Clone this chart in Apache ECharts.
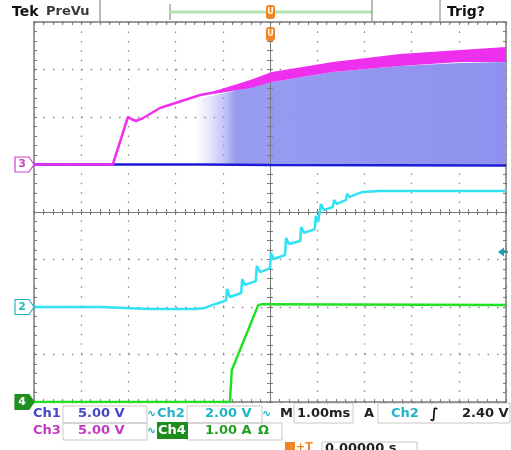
<!DOCTYPE html>
<html><head><meta charset="utf-8">
<script src="https://cdn.jsdelivr.net/npm/echarts@6/dist/echarts.min.js"></script>
<style>html,body{margin:0;padding:0;background:#fff}#c{width:511px;height:450px}</style>
</head><body><div id="c"></div>
<script>
// ---- scope settings (per-division scales and ground offsets in divisions) ----
const msPerDiv = 1.0;
const ch1VoltsPerDiv = 5, ch1Offset = 1;
const ch2VoltsPerDiv = 2, ch2Offset = -2;
const ch3VoltsPerDiv = 5, ch3Offset = 1;
const ch4AmpsPerDiv = 1, ch4Offset = -4;

// ---- Ch1 (blue): ground trace and switching-noise envelope ----
const ch1Time  = [-5, -1.5, 0, 5];
const ch1Volts = [0, 0, -0.05, -0.1];
const ch1NoiseTime = [-1.59, -1.17, -0.42, 0.04, 1.33, 2.75, 4.03, 5.0];
const ch1NoiseTop  = [6.9, 7.3, 8.16, 8.68, 9.74, 10.37, 10.68, 10.79];

// ---- Ch3 (magenta) ----
const ch3Time  = [-5, -3.33, -3.01, -2.94, -2.84, -2.69, -2.33, -1.48, -0.91, 0.04, 1.33, 2.75, 4.98];
const ch3Volts = [0, 0, 5.0, 4.79, 4.58, 4.89, 5.95, 7.32, 7.84, 9.21, 10.26, 11.0, 11.5];
const ch3BandTime  = [-1.17, -0.42, 0.04, 1.33, 2.75, 4.03, 5.0];
const ch3BandUpper = [7.75, 8.89, 9.74, 10.79, 11.63, 12.05, 12.37];
const ch3BandLower = [7.45, 8.05, 8.68, 9.74, 10.37, 10.79, 10.79];

// ---- Ch2 (cyan) ----
const ch2Time  = [-5.00,-3.60,-3.07,-2.54,-1.59,-1.38,-1.23,-1.02,-0.93,-0.91,-0.85,-0.61,-0.59,-0.53,-0.30,-0.28,-0.21,0.00,0.02,0.08,0.32,0.34,0.40,0.64,0.66,0.72,0.95,0.97,1.02,1.06,1.08,1.14,1.33,1.36,1.42,1.61,1.63,1.69,1.84,1.95,2.33,5.00];
const ch2Volts = [0,0,-0.04,-0.08,-0.08,-0.04,0.08,0.21,0.29,0.76,0.42,0.59,1.18,0.93,1.09,1.73,1.47,1.64,2.27,2.02,2.19,2.91,2.65,2.78,3.37,3.12,3.28,3.83,3.58,3.66,4.34,4.08,4.21,4.51,4.34,4.51,4.76,4.63,4.76,4.84,4.88,4.88];

// ---- Ch4 (green, current) ----
const ch4Time = [-5, -0.85, -0.81, -0.81, -0.25, -0.17, 5];
const ch4Amps = [0, 0, 0.04, 0.67, 2.04, 2.06, 2.04];

// ---- readout texts ----
const readRow1 = ['Ch1', '5.00 V', 'Ch2', '2.00 V', 'M', '1.00ms', 'A', 'Ch2', '2.40 V'];
const readRow2 = ['Ch3', '5.00 V', 'Ch4', '1.00 A', 'Ω'];
const readRow3 = ['0.00000 s'];

// ---- build ----
const toDiv = (times, vals, scale, off) => times.map((t, i) => [t / msPerDiv, vals[i] / scale + off]);

const FONT = 'DejaVu Sans';
const gridCol = '#7a7a7a';

function xAx(pos, onZero, inside, extra) {
  return Object.assign({
    type: 'value', min: -5, max: 5, interval: 1, position: pos,
    axisLine: { show: true, onZero: onZero, lineStyle: { color: gridCol, width: onZero ? 1 : 1.5 } },
    axisTick: { show: true, inside: inside, length: 3, lineStyle: { color: gridCol } },
    minorTick: { show: true, splitNumber: 5, length: 3, lineStyle: { color: gridCol } },
    axisLabel: { show: false }, splitLine: { show: false }
  }, extra || {});
}
function yAx(pos, onZero, inside, extra) {
  return Object.assign({
    type: 'value', min: -4, max: 4, interval: 1, position: pos,
    axisLine: { show: true, onZero: onZero, lineStyle: { color: gridCol, width: onZero ? 1 : 1.5 } },
    axisTick: { show: true, inside: inside, length: 3, lineStyle: { color: gridCol } },
    minorTick: { show: true, splitNumber: 5, length: 3, lineStyle: { color: gridCol } },
    axisLabel: { show: false }, splitLine: { show: false }
  }, extra || {});
}
const dotted = { show: true, lineStyle: { color: '#8a8a8a', width: 1.3, type: [1.5, 7.95] } };

function bandSeries(times, lows, highs, fill, z) {
  const data = times.map((t, i) => [t, lows[i], highs[i]]);
  return {
    type: 'custom', xAxisIndex: 0, yAxisIndex: 0, z: z, silent: true, clip: true,
    data: data,
    renderItem: function (params, api) {
      if (params.dataIndex !== 0) return null;
      const top = data.map(d => api.coord([d[0], d[2]]));
      const bot = data.map(d => api.coord([d[0], d[1]])).reverse();
      return { type: 'polygon', shape: { points: top.concat(bot) }, style: { fill: fill } };
    }
  };
}

const noiseTimes = ch1NoiseTime.map(t => t / msPerDiv);
const noiseLow = ch1NoiseTime.map(() => 0 / ch1VoltsPerDiv + ch1Offset);
const noiseHigh = ch1NoiseTop.map(v => v / ch1VoltsPerDiv + ch1Offset);
const bandTimes = ch3BandTime.map(t => t / msPerDiv);
const bandLow = ch3BandLower.map(v => v / ch3VoltsPerDiv + ch3Offset);
const bandHigh = ch3BandUpper.map(v => v / ch3VoltsPerDiv + ch3Offset);

const noiseFill = new echarts.graphic.LinearGradient(0, 0, 1, 0, [
  { offset: 0, color: 'rgba(146,150,240,0.0)' },
  { offset: 0.05, color: 'rgba(146,150,240,0.25)' },
  { offset: 0.10, color: 'rgba(146,150,240,0.6)' },
  { offset: 0.13, color: 'rgba(146,150,240,0.95)' },
  { offset: 1, color: 'rgba(142,146,238,1)' }
]);

function lineS(data, color, width, z) {
  return { type: 'line', xAxisIndex: 0, yAxisIndex: 0, data: data, showSymbol: false, z: z,
    lineStyle: { color: color, width: width }, animation: false, silent: true };
}

const txt = (x, y, s, fill, size, extra) => Object.assign({
  type: 'text', x: x, y: y, silent: true,
  style: { text: s, fill: fill, font: 'bold ' + (size || 13) + 'px "' + FONT + '"', textVerticalAlign: 'middle' }
}, extra || {});
const ln = (x1, y1, x2, y2, c, w) => ({ type: 'line', silent: true, shape: { x1, y1, x2, y2 }, style: { stroke: c, lineWidth: w || 1 } });
const box = (x, y, w, h, c) => ({ type: 'rect', silent: true, shape: { x, y, width: w, height: h }, style: { fill: 'none', stroke: c || '#c8c8c8', lineWidth: 1 } });
const marker = (cy, label, col, filled) => ([
  { type: 'polygon', silent: true, shape: { points: [[15, cy - 7.5], [29, cy - 7.5], [34, cy], [29, cy + 7.5], [15, cy + 7.5]] },
    style: { fill: filled ? col : '#fff', stroke: col, lineWidth: 1.2 }, z: 100 },
  { type: 'text', silent: true, x: 22, y: cy, z: 101, style: { text: label, fill: filled ? '#fff' : col, font: 'bold 11px "' + FONT + '"', textAlign: 'center', textVerticalAlign: 'middle' } }
]);

const cBlue = '#4646c8', cCyan = '#20b4c6', cMag = '#c23ac2', cGreen = '#22a022';

const graphics = [
  txt(12, 12, 'Tek', '#111', 14),
  txt(46, 12, 'PreVu', '#3a3a3a', 13),
  ln(100, 0, 100, 21, '#777', 1),
  ln(170, 4, 170, 20, '#777', 1),
  ln(170, 12, 372, 12, '#b4e4b4', 3),
  ln(372, 0, 372, 21, '#777', 1),
  ln(440, 0, 440, 21, '#777', 1),
  txt(447, 12, 'Trig?', '#111', 14),
  { type: 'rect', silent: true, shape: { x: 266, y: 5, width: 9, height: 14, r: 3 }, style: { fill: '#f08522' }, z: 100 },
  txt(270.5, 12, 'U', '#fff', 8, { style: { text: 'U', fill: '#fff', font: 'bold 8px "' + FONT + '"', textAlign: 'center', textVerticalAlign: 'middle' }, z: 101 }),
  { type: 'rect', silent: true, shape: { x: 266, y: 27, width: 9, height: 14, r: 3 }, style: { fill: '#f08522' }, z: 100 },
  txt(270.5, 34, 'U', '#fff', 8, { style: { text: 'U', fill: '#fff', font: 'bold 8px "' + FONT + '"', textAlign: 'center', textVerticalAlign: 'middle' }, z: 101 }),
  ...marker(164.5, '3', '#cc44cc', false),
  ...marker(307, '2', '#22b8c8', false),
  ...marker(402, '4', '#1f8f1f', true),
  { type: 'polygon', silent: true, shape: { points: [[498, 252], [504, 247.5], [504, 256.5]] }, style: { fill: '#1aa0b0' }, z: 100 },
  ln(503, 252, 508, 252, '#1aa0b0', 2),
  // readout boxes
  box(63, 406, 84, 17), box(63, 423, 84, 17),
  box(187, 406, 75, 17), box(187, 423, 95, 17),
  box(294, 403, 59, 20), box(378, 403, 132, 20),
  box(322, 442, 95, 12),
  // row 1
  txt(33, 414, readRow1[0], cBlue), txt(78, 414, readRow1[1], cBlue),
  txt(147, 414, '∿', cCyan, 11), txt(157, 414, readRow1[2], cCyan), txt(205, 414, readRow1[3], cCyan),
  txt(262, 414, '∿', cCyan, 11), txt(280, 414, readRow1[4], '#222'), txt(297, 414, readRow1[5], '#222'),
  txt(364, 414, readRow1[6], '#222'), txt(391, 414, readRow1[7], cCyan),
  txt(430, 414, '∫', '#111', 14), txt(462, 414, readRow1[8], '#222'),
  // row 2
  txt(33, 431, readRow2[0], cMag), txt(78, 431, readRow2[1], cMag),
  txt(147, 431, '∿', cCyan, 11),
  { type: 'rect', silent: true, shape: { x: 157, y: 422, width: 31, height: 17 }, style: { fill: '#1c8c1c' } },
  txt(158, 431, readRow2[2], '#fff'), txt(205, 431, readRow2[3], cGreen), txt(258, 431, readRow2[4], cGreen),
  // row 3
  { type: 'rect', silent: true, shape: { x: 285, y: 442, width: 10, height: 9 }, style: { fill: '#f08522' } },
  txt(296, 447, '+T', '#f08522', 11),
  txt(325, 449, readRow3[0], '#222')
];

const option = {
  animation: false,
  backgroundColor: '#fff',
  grid: { left: 34, right: 5, top: 22, bottom: 48, show: false },
  xAxis: [
    xAx('bottom', false, true, { splitLine: dotted, z: 0 }),
    xAx('top', false, true, { z: 0 }),
    xAx('bottom', true, true, { z: 3, axisLine: { show: true, onZero: true, lineStyle: { color: gridCol, width: 1 } } }),
    xAx('bottom', true, false, { z: 3, axisLine: { show: true, onZero: true, lineStyle: { color: gridCol, width: 1 } } })
  ],
  yAxis: [
    yAx('left', false, true, { splitLine: dotted, z: 0 }),
    yAx('right', false, true, { z: 0 }),
    yAx('left', true, true, { z: 3, axisLine: { show: true, onZero: true, lineStyle: { color: gridCol, width: 1 } } }),
    yAx('left', true, false, { z: 3, axisLine: { show: true, onZero: true, lineStyle: { color: gridCol, width: 1 } } })
  ],
  series: [
    bandSeries(noiseTimes, noiseLow, noiseHigh, noiseFill, 1),
    lineS(toDiv(ch1Time, ch1Volts, ch1VoltsPerDiv, ch1Offset), '#1c1cd8', 2.5, 4),
    lineS(toDiv(ch3Time, ch3Volts, ch3VoltsPerDiv, ch3Offset), '#ee30ee', 2.5, 5),
    bandSeries(bandTimes, bandLow, bandHigh, '#ee30ee', 5),
    lineS(toDiv(ch2Time, ch2Volts, ch2VoltsPerDiv, ch2Offset), '#30e2f2', 2.5, 6),
    lineS(toDiv(ch4Time, ch4Amps, ch4AmpsPerDiv, ch4Offset), '#22e022', 2.5, 6)
  ],
  graphic: { elements: graphics }
};

const chart = echarts.init(document.getElementById('c'), null, { renderer: 'canvas' });
chart.setOption(option);
</script>
</body></html>
